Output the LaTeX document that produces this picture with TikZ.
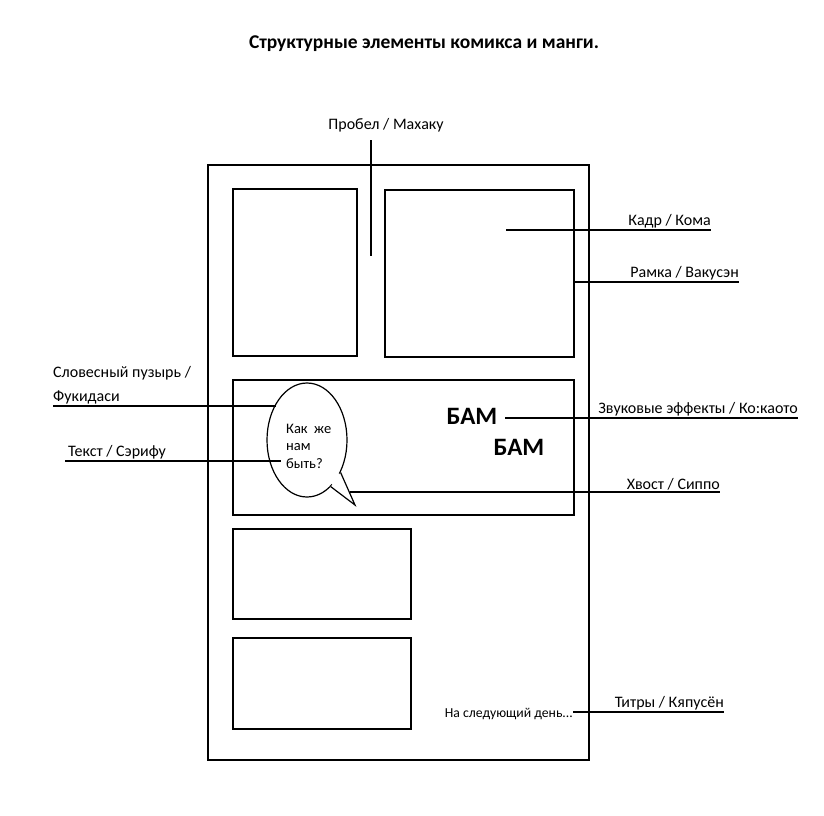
\documentclass[tikz,border=0pt]{standalone}
\usepackage{fontspec}
\setmainfont{Carlito}
\usetikzlibrary{shapes.geometric,calc}
\tikzset{
  panel/.style={draw, line width=1.2pt, inner sep=0pt, rectangle},
  leader/.style={line width=1.7pt},
  lbl/.style={font=\fontsize{16}{24}\selectfont, inner xsep=0pt, inner ysep=2pt, text=black},
  small/.style={font=\fontsize{13.7}{18}\selectfont, inner sep=0pt},
  bam/.style={font=\fontsize{25}{28}\selectfont\bfseries, inner sep=0pt},
}
\begin{document}
\begin{tikzpicture}[x=1pt,y=-1pt]
\useasboundingbox[fill=white] (0,0) rectangle (824,815);
% title
\node[font=\fontsize{19.5}{22}\selectfont\bfseries, inner sep=0pt] (title) at (424,44) {Структурные элементы комикса и манги.};
% page and panels
\node[panel, minimum width=381pt, minimum height=595pt] (page) at (398.5,462.5) {};
\node[panel, minimum width=124pt, minimum height=167pt] (p1) at (295,272.5) {};
\node[panel, minimum width=189pt, minimum height=167pt] (p2) at (479.5,273.5) {};
\node[panel, minimum width=341pt, minimum height=135pt] (p3) at (403.5,447.5) {};
\node[panel, minimum width=178pt, minimum height=90pt] (p4) at (322,574) {};
\node[panel, minimum width=178pt, minimum height=91pt] (p5) at (322,683.5) {};
% speech bubble
\node[draw, ellipse, line width=1.2pt, fill=white, minimum width=80pt, minimum height=114pt, inner sep=0pt] (bub) at (307,440) {};
\coordinate (tailA) at (bub.-44);
\coordinate (tailB) at (bub.-63);
\coordinate (tip) at (355,505);
\fill[white] ($(bub.center)!0.85!(tailA)$) -- (tip) -- ($(bub.center)!0.85!(tailB)$) -- cycle;
\fill[white] (tailA) -- (tip) -- (tailB) -- cycle;
\draw[line width=1.2pt, line join=miter] (tailA) -- (tip) -- (tailB);
\node[small, align=left, anchor=west, font=\fontsize{14.5}{17.5}\selectfont] (bubtext) at (286,446) {Как\ \ же\\нам\\быть?};
% sound effects
\node[bam] (bam1) at (472,416) {БАМ};
\node[bam] (bam2) at (519,447) {БАМ};
% caption text
\node[small, anchor=east] (cap) at (573,714) {На следующий день...};
% labels
\node[lbl, anchor=south] (probel) at (386,134) {Пробел / Махаку};
\coordinate (prA) at (371,140);
\coordinate (prB) at (371,256);
\draw[leader] (prA) -- (prB);

\node[lbl, anchor=south east] (kadr) at (711,230) {Кадр / Кома};
\coordinate (kadrA) at (506,230);
\draw[leader] (kadrA) -- (kadr.south east);

\node[lbl, anchor=south east] (ramka) at (739,282) {Рамка / Вакусэн};
\coordinate (ramkaA) at (574,282);
\draw[leader] (ramkaA) -- (ramka.south east);

\node[lbl, anchor=south west, align=left] (slov) at (53,406) {Словесный пузырь /\\Фукидаси};
\coordinate (slovB) at (276,406);
\draw[leader] (slov.south west) -- (slovB);

\node[lbl, anchor=south west] (tekst) at (68,461) {Текст / Сэрифу};
\coordinate (tekstA) at (65,461);
\coordinate (tekstB) at (281,461);
\draw[leader] (tekstA) -- (tekstB);

\node[lbl, anchor=south east] (zvuk) at (798,418) {Звуковые эффекты / Ко:каото};
\coordinate (zvukA) at (505,418);
\draw[leader] (zvukA) -- (zvuk.south east);

\node[lbl, anchor=south east] (hvost) at (720,492) {Хвост / Сиппо};
\coordinate (hvostA) at (350,492);
\draw[leader] (hvostA) -- (hvost.south east);

\node[lbl, anchor=south east] (titry) at (724,712) {Титры / Кяпусён};
\draw[leader] (cap.east |- titry.south) -- (titry.south east);
\end{tikzpicture}
\end{document}
